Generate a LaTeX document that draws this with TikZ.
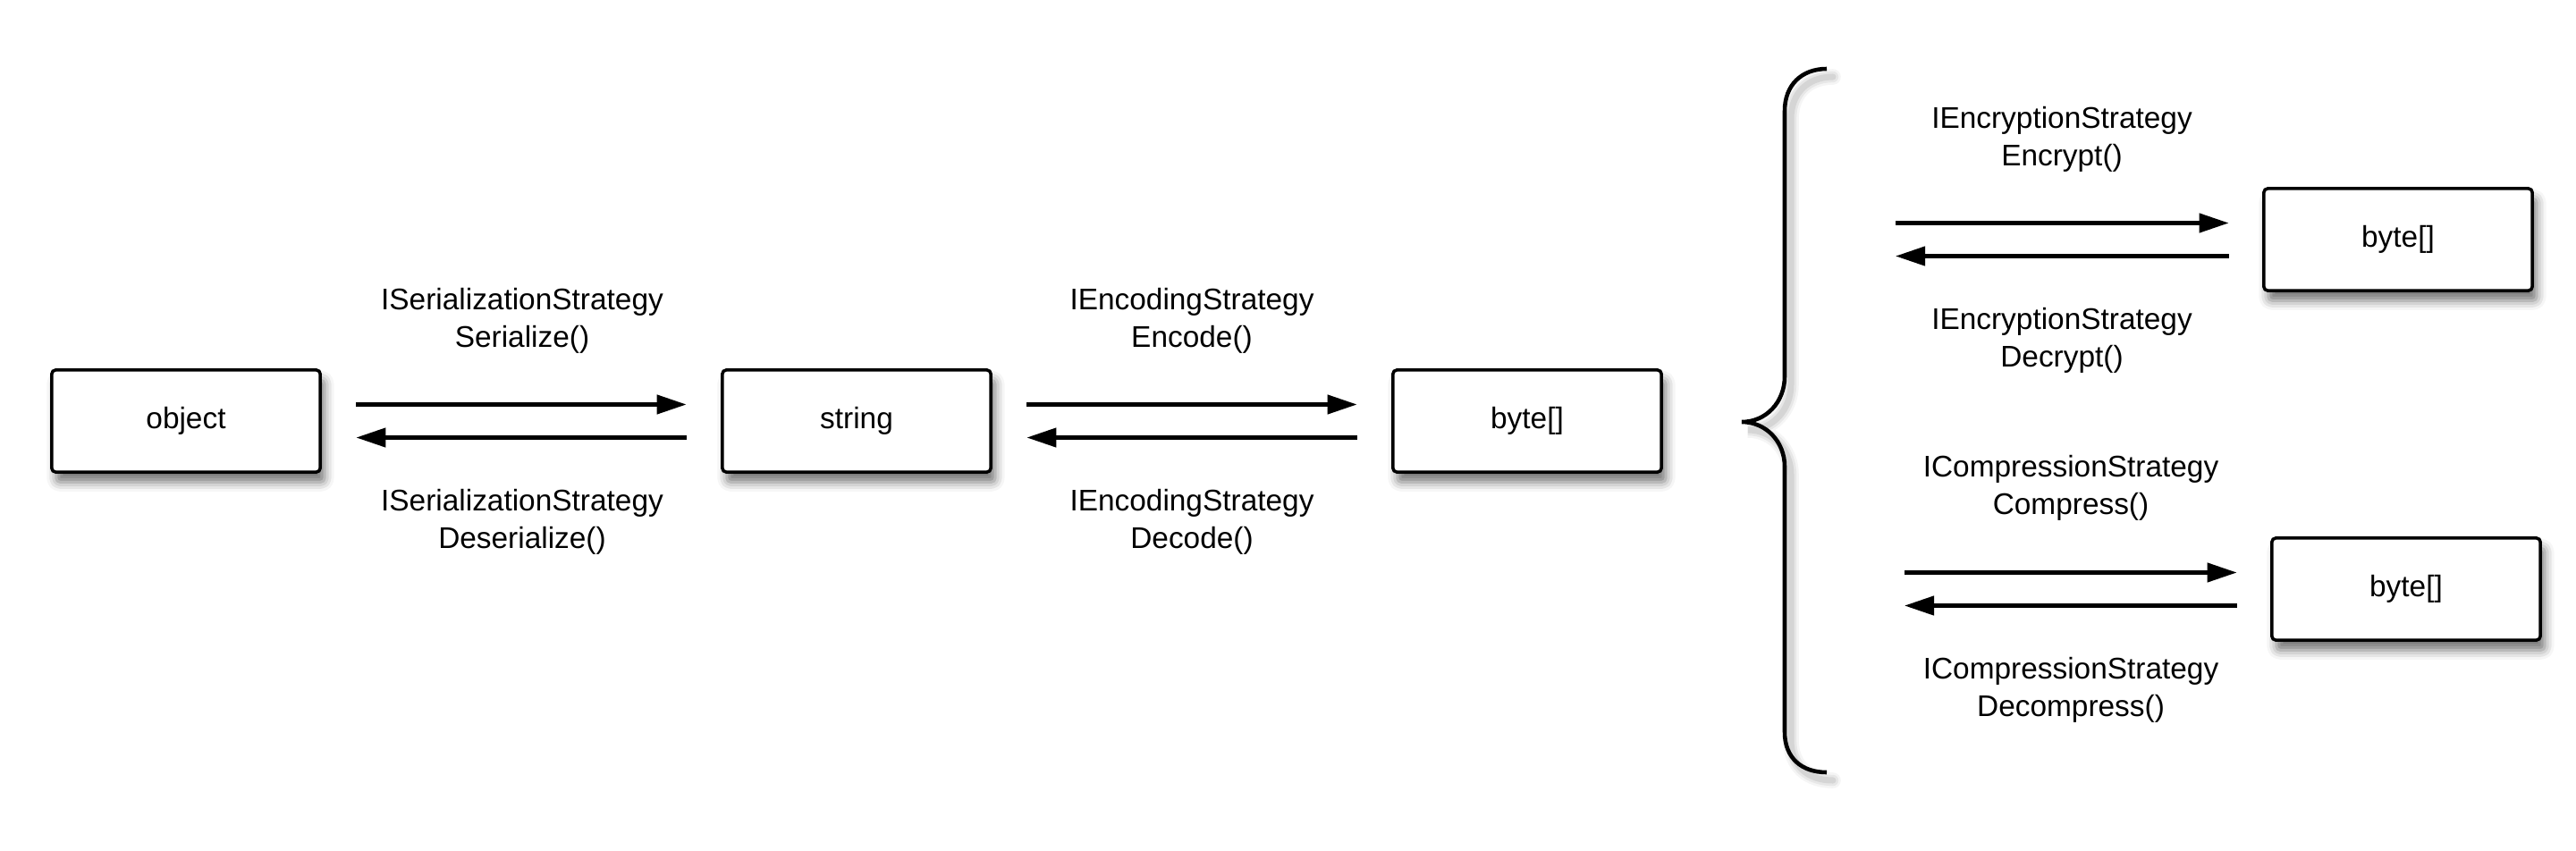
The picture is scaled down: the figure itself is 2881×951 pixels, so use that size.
\documentclass[tikz,border=0pt]{standalone}
\usepackage{fontspec}
\setmainfont{Liberation Sans}
\usetikzlibrary{arrows.meta,shadows.blur}

\tikzset{
  box/.style={draw, line width=1pt, rounded corners=1.2pt, fill=white,
    minimum width=3cm, minimum height=1.14cm, inner sep=0pt,
    blur shadow={shadow xshift=1.4pt, shadow yshift=-3.2pt,
      shadow blur radius=3pt, shadow opacity=55}},
  lbl/.style={align=center, inner sep=0pt},
  flow/.style={line width=1.2pt, -{Triangle[length=9.4pt,width=6pt]}},
  link/.style={flow, shorten <=3.85mm, shorten >=3.85mm},
}
\newcommand\bracepath{(2043,77) .. controls (2015,77) and (1996,95) .. (1996,124)
  -- (1996,421) .. controls (1996,450) and (1975,472) .. (1948,472)
  .. controls (1975,472) and (1996,494) .. (1996,522)
  -- (1996,819) .. controls (1996,848) and (2015,864) .. (2043,864)}

\begin{document}
\begin{tikzpicture}[x=0.01cm, y=-0.01cm, font=\fontsize{9.5pt}{12pt}\selectfont]
        \useasboundingbox (0,0) rectangle (2881,951);

        % Main chain
        \node[box] (obj) at (208,471) {object};
        \node[box] (str) at (958,471) {string};
        \node[box] (bytes) at (1708,471) {byte[]};

        % Branches after the brace
        \node[box] (enc) at (2682,268) {byte[]};
        \node[box] (cmp) at (2691,659) {byte[]};
        \coordinate (encL) at (2120,268);
        \coordinate (cmpL) at (2130,659);

        % Arrows
        \draw[link] ([yshift=.185cm]obj.east) -- ([yshift=.185cm]str.west);
        \draw[link] ([yshift=-.185cm]str.west) -- ([yshift=-.185cm]obj.east);
        \draw[link] ([yshift=.185cm]str.east) -- ([yshift=.185cm]bytes.west);
        \draw[link] ([yshift=-.185cm]bytes.west) -- ([yshift=-.185cm]str.east);
        \draw[flow, shorten >=3.75mm] ([yshift=.185cm]encL) -- ([yshift=.185cm]enc.west);
        \draw[flow, shorten <=3.75mm] ([yshift=-.185cm]enc.west) -- ([yshift=-.185cm]encL);
        \draw[flow, shorten >=3.75mm] ([yshift=.185cm]cmpL) -- ([yshift=.185cm]cmp.west);
        \draw[flow, shorten <=3.75mm] ([yshift=-.185cm]cmp.west) -- ([yshift=-.185cm]cmpL);

        % Labels
        \node[lbl] (serA) at (584,359) {ISerializationStrategy\\Serialize()};
        \node[lbl] (serB) at (584,584) {ISerializationStrategy\\Deserialize()};
        \node[lbl] (encA) at (1333,359) {IEncodingStrategy\\Encode()};
        \node[lbl] (encB) at (1333,584) {IEncodingStrategy\\Decode()};
        \node[lbl] (cryA) at (2306,156) {IEncryptionStrategy\\Encrypt()};
        \node[lbl] (cryB) at (2306,381) {IEncryptionStrategy\\Decrypt()};
        \node[lbl] (zipA) at (2316,546) {ICompressionStrategy\\Compress()};
        \node[lbl] (zipB) at (2316,772) {ICompressionStrategy\\Decompress()};

        % Brace with soft shadow
        \foreach \w/\o in {5pt/0.04, 3.5pt/0.06, 2pt/0.08}
          \draw[shift={(7,9)}, line width=\w, black, opacity=\o, line cap=round] \bracepath;
        \draw[line width=1.3pt] \bracepath;
\end{tikzpicture}
\end{document}
